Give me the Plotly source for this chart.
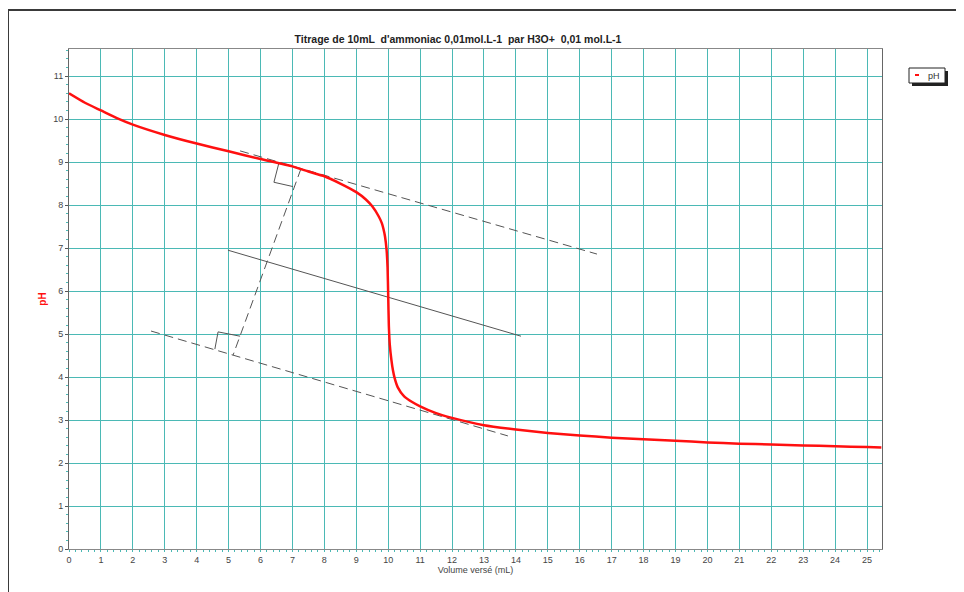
import plotly.graph_objects as go

# ---- data ----
volume = [0, 0.5, 1, 1.5, 2, 3, 4, 5, 6, 7, 7.5, 8, 8.5, 9, 9.3, 9.5, 9.7, 9.8, 9.85,
          9.9, 9.95, 9.98, 10, 10.02, 10.05, 10.1, 10.15, 10.2, 10.3, 10.5, 10.75, 11,
          11.5, 12, 13, 14, 15, 16, 17, 18, 19, 20, 21, 22, 23, 24, 25, 25.45]
ph = [10.6, 10.38, 10.2, 10.02, 9.87, 9.63, 9.43, 9.25, 9.07, 8.9, 8.78, 8.67, 8.5,
      8.3, 8.13, 7.97, 7.74, 7.58, 7.45, 7.27, 6.95, 6.55, 5.9, 5.2, 4.75, 4.4, 4.15,
      3.98, 3.76, 3.55, 3.42, 3.32, 3.16, 3.05, 2.88, 2.78, 2.7, 2.64, 2.59, 2.55,
      2.52, 2.48, 2.45, 2.43, 2.41, 2.39, 2.37, 2.36]

# construction lines (tangent method)
upper_tangent_x = [5.36, 16.54]
upper_tangent_y = [9.26, 6.86]
lower_tangent_x = [2.57, 13.75]
lower_tangent_y = [5.07, 2.63]
middle_line_x = [4.98, 14.16]
middle_line_y = [6.95, 4.95]
perp_x = [7.27, 5.14]
perp_y = [8.85, 4.51]
upper_mark_x = [6.58, 6.42, 7.02]
upper_mark_y = [8.99, 8.53, 8.43]
lower_mark_x = [4.57, 4.67, 5.36]
lower_mark_y = [4.65, 5.05, 4.95]

x_ticks = list(range(0, 26))
y_ticks = list(range(0, 12))

TEAL = "#4bb9b5"
GREY = "#555555"
FONT = "Liberation Sans, Arial, sans-serif"

fig = go.Figure()

dash = "9px,5px"
for xs, ys, d in [(upper_tangent_x, upper_tangent_y, dash),
                  (lower_tangent_x, lower_tangent_y, dash),
                  (perp_x, perp_y, dash),
                  (middle_line_x, middle_line_y, "solid"),
                  (upper_mark_x, upper_mark_y, "solid"),
                  (lower_mark_x, lower_mark_y, "solid")]:
    fig.add_trace(go.Scatter(x=xs, y=ys, mode="lines", showlegend=False,
                             hoverinfo="skip",
                             line=dict(color=GREY, width=1, dash=d)))

fig.add_trace(go.Scatter(x=volume, y=ph, mode="lines", name="pH",
                         line=dict(color="#ff1010", width=2.5, shape="spline",
                                   smoothing=0.5),
                         showlegend=False))

# paper helpers (plot area in window pixels: x 69..882, y 49..549)
def px(x):
    return (x - 69) / 813.0

def py(y):
    return (549 - y) / 500.0

shapes = [
    # outer frame
    dict(type="rect", xref="paper", yref="paper", x0=px(8), x1=px(990),
         y0=py(615), y1=py(10), line=dict(color="#3a3a3a", width=2)),
    # legend shadow
    dict(type="rect", xref="paper", yref="paper", x0=px(912), x1=px(948),
         y0=py(86), y1=py(71), fillcolor="#222222", line=dict(width=0)),
    # legend box
    dict(type="rect", xref="paper", yref="paper", x0=px(909), x1=px(945),
         y0=py(83), y1=py(68), fillcolor="white",
         line=dict(color="#222222", width=1)),
    # legend marker
    dict(type="line", xref="paper", yref="paper", x0=px(915), x1=px(919),
         y0=py(75), y1=py(75), line=dict(color="#ff1010", width=2)),
]

annotations = [
    dict(text="pH", xref="paper", yref="paper", x=px(934), y=py(75.5),
         showarrow=False, font=dict(family=FONT, size=9, color="#333333"),
         xanchor="center", yanchor="middle"),
]

fig.update_layout(
    width=964, height=592,
    margin=dict(l=61, r=90, t=41, b=51),
    paper_bgcolor="white", plot_bgcolor="white",
    title=dict(text="<b>Titrage de 10mL  d'ammoniac 0,01mol.L-1  par H3O+  0,01 mol.L-1</b>",
               x=(458 - 8) / 964, xanchor="center", y=1 - (39 - 8) / 592,
               yanchor="middle",
               font=dict(family=FONT, size=10.5, color="#222222")),
    shapes=shapes,
    annotations=annotations,
    showlegend=False,
    font=dict(family=FONT),
)

fig.update_xaxes(
    range=[0, 25.47], tickvals=x_ticks, ticktext=[str(v) for v in x_ticks],
    showgrid=True, gridcolor=TEAL, gridwidth=1.3,
    zeroline=False, showline=True, mirror=True, linecolor="#888888", linewidth=1,
    ticks="outside", ticklen=2, tickcolor=TEAL,
    minor=dict(dtick=0.2, ticks="outside", ticklen=2, tickcolor=TEAL, showgrid=False),
    tickfont=dict(family=FONT, size=9, color="#444444"),
    title=dict(text="Volume versé (mL)", standoff=2,
               font=dict(family=FONT, size=9, color="#444444")),
)
fig.update_yaxes(
    range=[0, 11.63], tickvals=y_ticks, ticktext=[str(v) for v in y_ticks],
    showgrid=True, gridcolor=TEAL, gridwidth=1.3,
    zeroline=False, showline=True, mirror=True, linecolor="#666666", linewidth=1,
    ticks="outside", ticklen=3, tickcolor="#555555",
    minor=dict(dtick=0.2, ticks="outside", ticklen=2, tickcolor=TEAL, showgrid=False),
    tickfont=dict(family=FONT, size=9, color="#444444"),
    title=dict(text="<b>pH</b>", standoff=4,
               font=dict(family=FONT, size=10, color="#ff1010")),
)

fig.write_html("out.html")
